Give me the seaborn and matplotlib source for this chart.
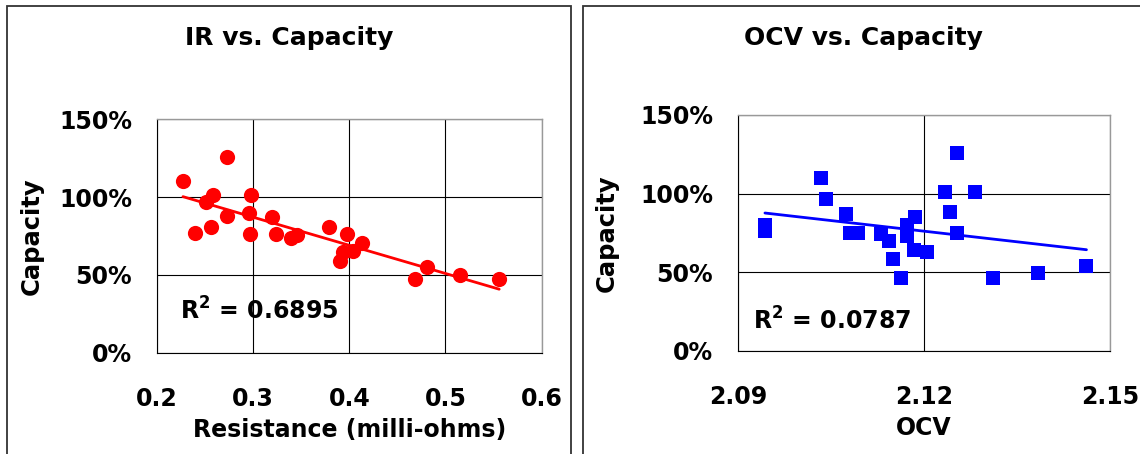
#!/usr/bin/env python3
"""IR and OCV vs. capacity scatter charts with linear trend lines."""
import matplotlib
matplotlib.use("Agg")
import matplotlib.pyplot as plt
import numpy as np
import seaborn as sns
from matplotlib.patches import Rectangle
from matplotlib.ticker import PercentFormatter

# Internal resistance (milli-ohms) vs. capacity (%)
ir_resistance = [0.227, 0.273, 0.251, 0.258, 0.298, 0.273, 0.296, 0.240,
                 0.256, 0.297, 0.320, 0.324, 0.339, 0.346, 0.379, 0.398,
                 0.413, 0.394, 0.404, 0.390, 0.468, 0.481, 0.515, 0.556]
ir_capacity = [110.1, 125.5, 96.8, 101.5, 101.1, 87.6, 89.7, 76.9,
               80.7, 76.2, 86.9, 76.2, 73.7, 75.4, 80.7, 76.2,
               70.4, 64.7, 65.1, 58.7, 47.5, 54.8, 50.1, 47.5]

# Open circuit voltage vs. capacity (%)
ocv_voltage = [2.0943, 2.0943, 2.1033, 2.1041, 2.1074, 2.1080, 2.1093, 2.1131,
               2.1143, 2.1150, 2.1163, 2.1185, 2.1173, 2.1173, 2.1184, 2.1204,
               2.1234, 2.1242, 2.1253, 2.1253, 2.1282, 2.1311, 2.1383, 2.1462]
ocv_capacity = [79.8, 76.2, 110.2, 96.8, 86.8, 75.2, 75.2, 74.5,
                69.9, 58.2, 46.1, 85.4, 80.1, 72.7, 64.2, 63.1,
                101.1, 88.3, 125.5, 75.2, 101.1, 46.1, 49.7, 53.9]

cap_ticks = [0, 50, 100, 150]
ir_ticks = [0.2, 0.3, 0.4, 0.5, 0.6]
ocv_ticks = [2.09, 2.12, 2.15]

sns.set_style("white")
plt.rcParams["font.family"] = ["DejaVu Sans"]
plt.rcParams["font.weight"] = "bold"
plt.rcParams["text.color"] = "black"
plt.rcParams["axes.labelcolor"] = "black"
plt.rcParams["xtick.color"] = "black"
plt.rcParams["ytick.color"] = "black"
plt.rcParams["mathtext.fontset"] = "custom"
plt.rcParams["mathtext.rm"] = "DejaVu Sans:bold"
plt.rcParams["mathtext.bf"] = "DejaVu Sans:bold"
plt.rcParams["mathtext.it"] = "DejaVu Sans:bold"

W, H = 1140, 454
fig = plt.figure(figsize=(W / 100, H / 100), dpi=100)


def px_rect(x0, y0, x1, y1):
    return [x0 / W, 1 - y1 / H, (x1 - x0) / W, (y1 - y0) / H]


# panel frames
for x0, x1 in [(7, 571), (583, 1144)]:
    fig.add_artist(Rectangle((x0 / W, -0.05), (x1 - x0) / W, 1.05 - 6 / H,
                             transform=fig.transFigure, fill=False,
                             edgecolor="#333333", linewidth=1.3))


def style_axes(ax, xticks, xlabel, ylabel_x):
    ax.set_xticks(xticks)
    ax.set_xlim(xticks[0], xticks[-1])
    ax.set_yticks(cap_ticks)
    ax.set_ylim(0, 150)
    ax.yaxis.set_major_formatter(PercentFormatter(100, decimals=0))
    ax.grid(True, color="black", linewidth=0.8)
    ax.set_axisbelow(True)
    for side in ["left", "bottom"]:
        ax.spines[side].set_color("black")
        ax.spines[side].set_linewidth(0.8)
    for side in ["top", "right"]:
        ax.spines[side].set_color("#999999")
        ax.spines[side].set_linewidth(1.0)
    ax.tick_params(axis="both", direction="out", length=7, width=0.8,
                   color="black", labelcolor="black", labelsize=17)
    ax.tick_params(axis="y", pad=11)
    ax.tick_params(axis="x", pad=18)
    ax.set_xlabel(xlabel, fontsize=17, fontweight="bold", labelpad=5, color="black")
    ax.set_ylabel("Capacity", fontsize=17.5, fontweight="bold", color="black")
    ax.yaxis.set_label_coords(ylabel_x, 0.5)


# IR panel
ax1 = fig.add_axes(px_rect(157, 119.3, 541.5, 352.7))
sns.regplot(x=ir_resistance, y=ir_capacity, ax=ax1, ci=None, marker="o",
            scatter_kws={"s": 120, "color": "#FF0000", "linewidths": 0, "alpha": 1},
            line_kws={"color": "#FF0000", "linewidth": 2})
style_axes(ax1, ir_ticks, "Resistance (milli-ohms)", -0.295)
ax1.text(0.06, 0.14, r"R$^{2}$ = 0.6895", transform=ax1.transAxes,
         fontsize=17, fontweight="bold", va="baseline", color="black")
fig.text(289 / W, 1 - 38.5 / H, "IR vs. Capacity", ha="center", va="center",
         fontsize=18, fontweight="bold", color="black")

# OCV panel
ax2 = fig.add_axes(px_rect(738.3, 115, 1110, 350.7))
sns.regplot(x=ocv_voltage, y=ocv_capacity, ax=ax2, ci=None, marker="s",
            scatter_kws={"s": 100, "color": "#0000FF", "linewidths": 0, "alpha": 1},
            line_kws={"color": "#0000FF", "linewidth": 2})
style_axes(ax2, ocv_ticks, "OCV", -0.321)
ax2.text(0.04, 0.088, r"R$^{2}$ = 0.0787", transform=ax2.transAxes,
         fontsize=17, fontweight="bold", va="baseline", color="black")
fig.text(863.6 / W, 1 - 38.5 / H, "OCV vs. Capacity", ha="center", va="center",
         fontsize=18, fontweight="bold", color="black")

for xs, ys in [(ir_resistance, ir_capacity), (ocv_voltage, ocv_capacity)]:
    r = np.corrcoef(xs, ys)[0, 1]
    print(f"R^2 = {r * r:.4f}")

fig.savefig("out.png", dpi=100)
